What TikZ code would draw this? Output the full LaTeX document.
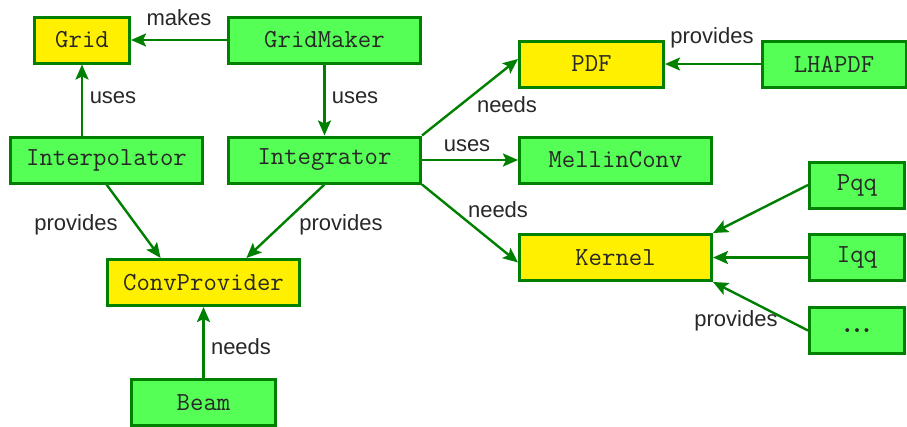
\documentclass[tikz,border=0pt]{standalone}
\usepackage{fontspec}
\newfontfamily\lblfont{Liberation Sans}
\usetikzlibrary{arrows.meta,calc}
\definecolor{boxgreen}{RGB}{85,255,85}
\definecolor{edgegreen}{RGB}{0,128,0}
\definecolor{boxyellow}{RGB}{255,240,0}
\definecolor{txtgray}{RGB}{40,40,40}
\begin{document}
\begin{tikzpicture}[x=1pt,y=-1pt,
  box/.style={draw=edgegreen, line width=3pt, minimum height=46pt, inner sep=0pt,
    font=\fontsize{26}{30}\selectfont\ttfamily, text=txtgray},
  gbox/.style={box, fill=boxgreen},
  ybox/.style={box, fill=boxyellow},
  wtwo/.style={minimum width=95pt},
  wthree/.style={minimum width=144pt},
  wfour/.style={minimum width=192pt},
  conn/.style={draw=edgegreen, line width=2.4pt, -{Stealth[length=15pt,width=13pt,inset=3pt]}},
  lbl/.style={font=\fontsize{22}{26}\selectfont\lblfont, text=txtgray, inner sep=0pt}]
\path[fill=white, use as bounding box] (0,0) rectangle (907,426);

\node[ybox, wtwo]   (Grid)         at (82,40)     {Grid};
\node[gbox, wfour]  (GridMaker)    at (324.5,40)  {GridMaker};
\node[gbox, wfour]  (Interpolator) at (106.5,160) {Interpolator};
\node[gbox, wfour]  (Integrator)   at (324.5,160) {Integrator};
\node[ybox, wfour]  (ConvProvider) at (203.5,282.5) {ConvProvider};
\node[gbox, wthree] (Beam)         at (203.5,402.5) {Beam};
\node[ybox, wthree] (PDF)          at (591.5,64)  {PDF};
\node[gbox, wthree] (LHAPDF)       at (834,64)    {LHAPDF};
\node[gbox, wfour]  (MellinConv)   at (615.5,160) {MellinConv};
\node[ybox, wfour]  (Kernel)       at (615.5,257.5) {Kernel};
\node[gbox, wtwo]   (Pqq)          at (857,185)   {Pqq};
\node[gbox, wtwo]   (Iqq)          at (857,257.5) {Iqq};
\node[gbox, wtwo, font=\fontsize{34}{38}\selectfont\ttfamily] (Dots) at (857,330.5) {.\kern-8pt.\kern-8pt.};

\coordinate (cpL) at ($(ConvProvider.north west)!0.28!(ConvProvider.north east)$);
\coordinate (cpR) at ($(ConvProvider.north west)!0.72!(ConvProvider.north east)$);
\coordinate (pdfIn) at ($(PDF.west)+(0,-5)$);
\coordinate (kerIn) at ($(Kernel.west)+(0,5)$);
\coordinate (interTop) at (Grid.south |- Interpolator.north);

\draw[conn] (GridMaker.west) -- (Grid.east);
\draw[conn] (interTop) -- (Grid.south);
\draw[conn] (GridMaker.south) -- (Integrator.north);
\draw[conn] (Interpolator.south) -- (cpL);
\draw[conn] (Integrator.south) -- (cpR);
\draw[conn] (Beam.north) -- (ConvProvider.south);
\draw[conn] (Integrator.north east) -- (pdfIn);
\draw[conn] (Integrator.east) -- (MellinConv.west);
\draw[conn] (Integrator.south east) -- (kerIn);
\draw[conn] (LHAPDF.west) -- (PDF.east);
\draw[conn] (Pqq.west) -- (Kernel.north east);
\draw[conn] (Iqq.west) -- (Kernel.east);
\draw[conn] (Dots.west) -- (Kernel.south east);

\node[lbl] (lMakes)  at (179,18)  {makes};
\node[lbl] (lUses1)  at (113,98)  {uses};
\node[lbl] (lUses2)  at (355,98)  {uses};
\node[lbl] (lNeeds1) at (507,105) {needs};
\node[lbl] (lUses3)  at (467,146) {uses};
\node[lbl] (lNeeds2) at (498,210) {needs};
\node[lbl] (lProv1)  at (712,38)  {provides};
\node[lbl] (lProv2)  at (76,225)  {provides};
\node[lbl] (lProv3)  at (341,225) {provides};
\node[lbl] (lNeeds3) at (241,347) {needs};
\node[lbl] (lProv4)  at (736,321) {provides};
\end{tikzpicture}
\end{document}
